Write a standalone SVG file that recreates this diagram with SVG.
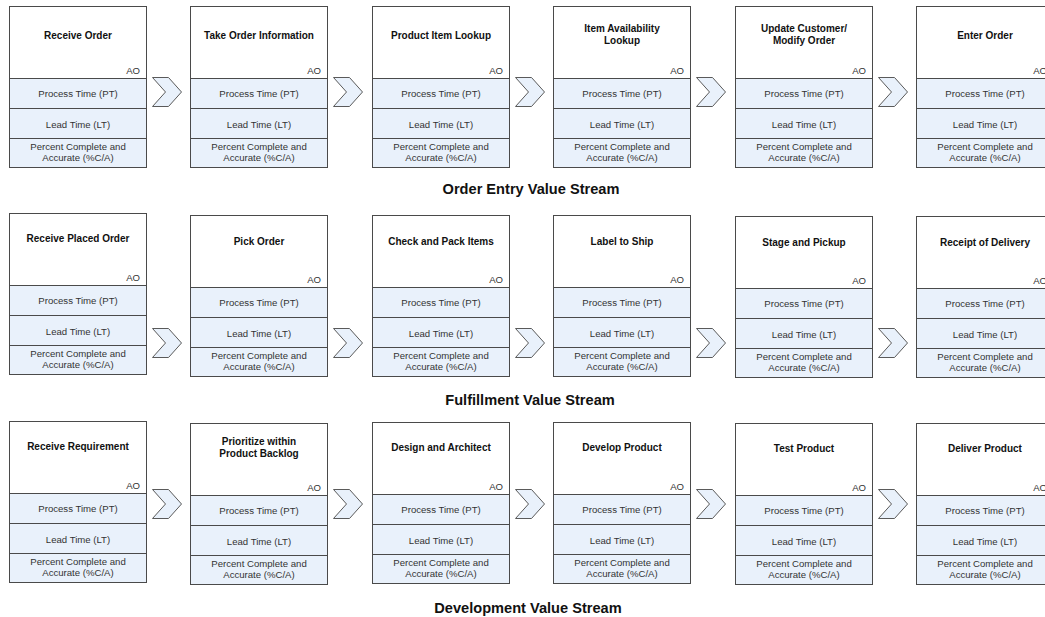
<svg xmlns="http://www.w3.org/2000/svg" width="1045" height="617" viewBox="0 0 1045 617">
  <style>
    .hd { fill: #ffffff; stroke: #4a4a4a; stroke-width: 1; }
    .cell { fill: #e9f1fb; stroke: #4a4a4a; stroke-width: 1; }
    .chev { fill: #e9f1fb; stroke: #5a5a5a; stroke-width: 1; stroke-linejoin: miter; }
    text { font-family: "Liberation Sans", Arial, sans-serif; }
    .title { font-size: 10px; font-weight: bold; fill: #111111; text-anchor: middle; }
    .ao { font-size: 9.6px; fill: #333333; text-anchor: end; }
    .body { font-size: 9.6px; fill: #333333; text-anchor: middle; }
    .stream { font-size: 14.6px; font-weight: bold; fill: #111111; text-anchor: middle; }
  </style>
  <defs>
    <!-- process box body: header, PT, LT, %C/A cells -->
    <g id="box">
      <rect class="hd" x="0" y="0" width="137" height="72"/>
      <rect class="cell" x="0" y="72" width="137" height="30"/>
      <rect class="cell" x="0" y="102" width="137" height="30"/>
      <rect class="cell" x="0" y="132" width="137" height="29"/>
      <text class="ao" x="130.5" y="67.5">AO</text>
      <text class="body" x="68.5" y="90.5">Process Time (PT)</text>
      <text class="body" x="68.5" y="121">Lead Time (LT)</text>
      <text class="body" x="68.5" y="143.5">Percent Complete and</text>
      <text class="body" x="68.5" y="154.5">Accurate (%C/A)</text>
    </g>
    <path id="chevron" class="chev" d="M0,0 L16,0 L29,14.5 L16,29 L0,29 L13,14.5 Z"/>
  </defs>

  <!-- Order Entry value stream -->
  <g id="n-receive-order" transform="translate(9.5,6.5)">
    <use href="#box"/><text class="title" x="68.5" y="32">Receive Order</text>
  </g>
  <g id="n-take-order-information" transform="translate(190.5,6.5)">
    <use href="#box"/><text class="title" x="68.5" y="32">Take Order Information</text>
  </g>
  <g id="n-product-item-lookup" transform="translate(372.5,6.5)">
    <use href="#box"/><text class="title" x="68.5" y="32">Product Item Lookup</text>
  </g>
  <g id="n-item-availability-lookup" transform="translate(553.5,6.5)">
    <use href="#box"/><text class="title" x="68.5" y="25">Item Availability</text><text class="title" x="68.5" y="37.5">Lookup</text>
  </g>
  <g id="n-update-customer" transform="translate(735.5,6.5)">
    <use href="#box"/><text class="title" x="68.5" y="25">Update Customer/</text><text class="title" x="68.5" y="37.5">Modify Order</text>
  </g>
  <g id="n-enter-order" transform="translate(916.5,6.5)">
    <use href="#box"/><text class="title" x="68.5" y="32">Enter Order</text>
  </g>
  <text id="label-order-entry" class="stream" x="531" y="194">Order Entry Value Stream</text>

  <!-- Fulfillment value stream -->
  <g id="n-receive-placed-order" transform="translate(9.5,213.5)">
    <use href="#box"/><text class="title" x="68.5" y="28.5">Receive Placed Order</text>
  </g>
  <g id="n-pick-order" transform="translate(190.5,215.5)">
    <use href="#box"/><text class="title" x="68.5" y="29.5">Pick Order</text>
  </g>
  <g id="n-check-and-pack" transform="translate(372.5,215.5)">
    <use href="#box"/><text class="title" x="68.5" y="29.5">Check and Pack Items</text>
  </g>
  <g id="n-label-to-ship" transform="translate(553.5,215.5)">
    <use href="#box"/><text class="title" x="68.5" y="29.5">Label to Ship</text>
  </g>
  <g id="n-stage-and-pickup" transform="translate(735.5,216.5)">
    <use href="#box"/><text class="title" x="68.5" y="29.5">Stage and Pickup</text>
  </g>
  <g id="n-receipt-of-delivery" transform="translate(916.5,216.5)">
    <use href="#box"/><text class="title" x="68.5" y="29.5">Receipt of Delivery</text>
  </g>
  <text id="label-fulfillment" class="stream" x="530" y="405">Fulfillment Value Stream</text>

  <!-- Development value stream -->
  <g id="n-receive-requirement" transform="translate(9.5,421.5)">
    <use href="#box"/><text class="title" x="68.5" y="28.5">Receive Requirement</text>
  </g>
  <g id="n-prioritize-backlog" transform="translate(190.5,423.5)">
    <use href="#box"/><text class="title" x="68.5" y="21.5">Prioritize within</text><text class="title" x="68.5" y="33.5">Product Backlog</text>
  </g>
  <g id="n-design-and-architect" transform="translate(372.5,422.5)">
    <use href="#box"/><text class="title" x="68.5" y="28.5">Design and Architect</text>
  </g>
  <g id="n-develop-product" transform="translate(553.5,422.5)">
    <use href="#box"/><text class="title" x="68.5" y="28.5">Develop Product</text>
  </g>
  <g id="n-test-product" transform="translate(735.5,423.5)">
    <use href="#box"/><text class="title" x="68.5" y="28.5">Test Product</text>
  </g>
  <g id="n-deliver-product" transform="translate(916.5,423.5)">
    <use href="#box"/><text class="title" x="68.5" y="28.5">Deliver Product</text>
  </g>
  <text id="label-development" class="stream" x="528" y="613">Development Value Stream</text>

  <!-- flow chevrons between steps -->
  <g id="connectors">
    <use href="#chevron" x="152.5" y="77.5"/>
    <use href="#chevron" x="333.5" y="77.5"/>
    <use href="#chevron" x="515.5" y="77.5"/>
    <use href="#chevron" x="696.5" y="77.5"/>
    <use href="#chevron" x="878.5" y="77.5"/>

    <use href="#chevron" x="152.5" y="328.5"/>
    <use href="#chevron" x="333.5" y="328.5"/>
    <use href="#chevron" x="515.5" y="328.5"/>
    <use href="#chevron" x="696.5" y="328.5"/>
    <use href="#chevron" x="878.5" y="328.5"/>

    <use href="#chevron" x="152.5" y="489.5"/>
    <use href="#chevron" x="333.5" y="489.5"/>
    <use href="#chevron" x="515.5" y="489.5"/>
    <use href="#chevron" x="696.5" y="489.5"/>
    <use href="#chevron" x="878.5" y="489.5"/>
  </g>
</svg>
